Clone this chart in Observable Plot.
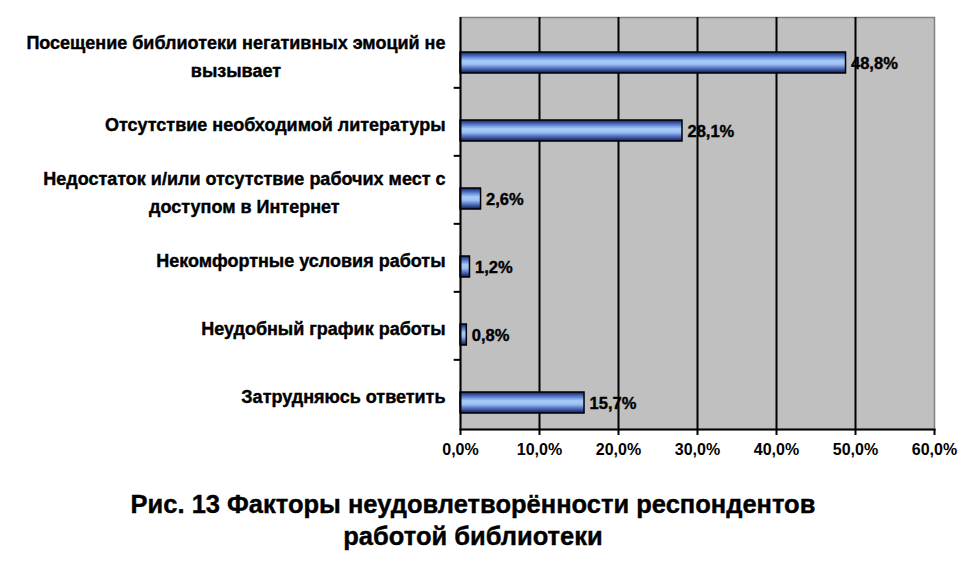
<!DOCTYPE html>
<html>
<head>
<meta charset="utf-8">
<script src="https://cdn.jsdelivr.net/npm/d3@7"></script>
<script src="https://cdn.jsdelivr.net/npm/@observablehq/plot@0.6"></script>
<style>
  body { margin: 0; background: #fff; }
  #wrap { width: 980px; font-family: "Liberation Sans", Arial, sans-serif; }
  #title { width: 946px; margin-top: 14px; text-align: center; font-weight: bold; font-size: 25.5px; line-height: 32px; color: #000; -webkit-text-stroke: 0.4px #000; }
  #chart text { paint-order: stroke; }
</style>
</head>
<body>
<div id="wrap">
  <div id="chart"></div>
  <div id="title">Рис. 13 Факторы неудовлетворённости респондентов<br>работой библиотеки</div>
</div>
<script>
const categories = [
  "Посещение библиотеки негативных эмоций не\nвызывает",
  "Отсутствие необходимой литературы",
  "Недостаток и/или отсутствие рабочих мест с\nдоступом в Интернет",
  "Некомфортные условия работы",
  "Неудобный график работы",
  "Затрудняюсь ответить"
];
const values = [48.8, 28.1, 2.6, 1.2, 0.8, 15.7];
const xTicks = [0, 10, 20, 30, 40, 50, 60];

const data = categories.map((c, i) => ({cat: c, value: values[i]}));
const fmt = d => d.toFixed(1).replace(".", ",") + "%";

const FONT = "'Liberation Sans', Arial, sans-serif";
const LABEL_SIZE = 18;
const ctx = document.createElement("canvas").getContext("2d");
ctx.font = `bold ${LABEL_SIZE}px ${FONT}`;
const blockWidth = c => Math.max(...c.split("\n").map(l => ctx.measureText(l).width));

// category labels: block right-aligned, lines centred within the block
const labelMarks = categories.map(c => Plot.text([c], {
  x: 0, y: d => d, text: d => d,
  dx: -15 - blockWidth(c) / 2, dy: 1, textAnchor: "middle",
  lineHeight: 28 / LABEL_SIZE, fontSize: LABEL_SIZE, fontWeight: "bold",
  fill: "#000", stroke: "#000", strokeWidth: 0.4
}));

const chart = Plot.plot({
  width: 980,
  height: 474,
  marginLeft: 460,
  marginRight: 46,
  marginTop: 17,
  marginBottom: 45,
  style: {fontFamily: FONT, fontWeight: "bold", fontSize: "16px", color: "#000", background: "#fff"},
  x: {domain: [0, 60]},
  y: {domain: categories, padding: 0, axis: null},
  marks: [
    Plot.frame({fill: "#c0c0c0", stroke: "#808080", strokeWidth: 1.5}),
    Plot.ruleX(xTicks.slice(1, 6), {stroke: "#000", strokeWidth: 2}),
    Plot.barX(data, {x: "value", y: "cat", fill: "url(#barGrad)", stroke: "#000", strokeWidth: 1.5, insetTop: 33, insetBottom: 14}),
    Plot.text(data, {x: "value", y: "cat", text: d => fmt(d.value), dx: 5, dy: 10, textAnchor: "start", fontSize: 16.5, fontWeight: "bold", fill: "#000", stroke: "#000", strokeWidth: 0.4}),
    Plot.ruleX([0], {stroke: "#000", strokeWidth: 2}),
    Plot.frame({anchor: "bottom", stroke: "#000", strokeWidth: 2}),
    Plot.ruleY(categories.slice(0, 5), {y: d => d, x1: 0, x2: -0.8, dy: 34.33, stroke: "#000", strokeWidth: 2, clip: false}),
    ...labelMarks,
    Plot.axisX({ticks: xTicks, tickFormat: fmt, tickSize: 6, tickPadding: 8, strokeWidth: 2, fontSize: 16, fontWeight: "bold", label: null}),
    Plot.axisX({ticks: xTicks, tickFormat: fmt, tickSize: 0, tickPadding: 14, fontSize: 16, fontWeight: "bold", label: null, fill: "none", stroke: "#000", strokeWidth: 0.4})
  ]
});

const defs = d3.select(chart).insert("defs", ":first-child");
const g = defs.append("linearGradient").attr("id", "barGrad").attr("x1", 0).attr("y1", 0).attr("x2", 0).attr("y2", 1);
[[0, "#14205a"], [0.18, "#4a6cc0"], [0.42, "#a6cdfb"], [0.58, "#9ec2f4"], [0.8, "#4a66b8"], [1, "#10184c"]]
  .forEach(([o, c]) => g.append("stop").attr("offset", o).attr("stop-color", c));

document.getElementById("chart").appendChild(chart);
</script>
</body>
</html>
